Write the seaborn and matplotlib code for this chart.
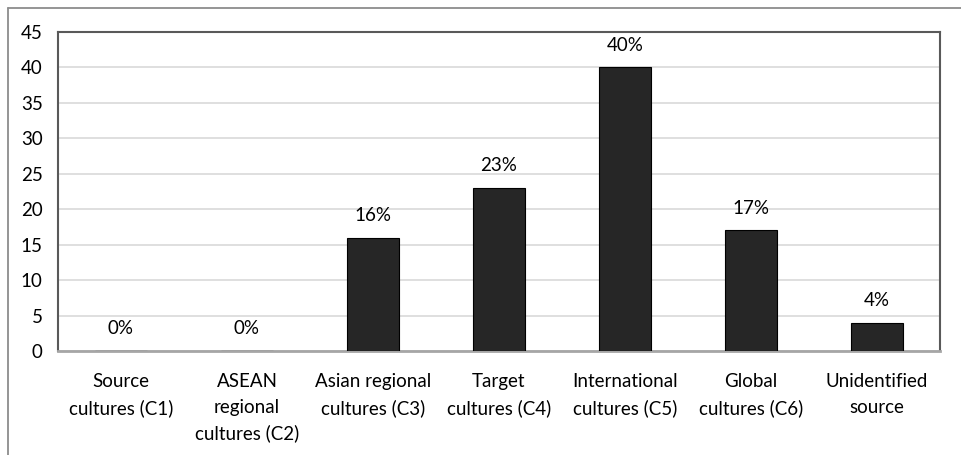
import matplotlib
matplotlib.use("Agg")
import matplotlib.pyplot as plt
import seaborn as sns
import pandas as pd
from matplotlib.lines import Line2D

categories = ["Source\ncultures (C1)", "ASEAN\nregional\ncultures (C2)", "Asian regional\ncultures (C3)",
              "Target\ncultures (C4)", "International\ncultures (C5)", "Global\ncultures (C6)",
              "Unidentified\nsource"]
values = [0, 0, 16, 23, 40, 17, 4]
labels = ["0%", "0%", "16%", "23%", "40%", "17%", "4%"]
yticks = [0, 5, 10, 15, 20, 25, 30, 35, 40, 45]

sns.set_theme(style="white")
plt.rcParams['font.family'] = ['Lato', 'DejaVu Sans']

W, H = 961, 455
fig = plt.figure(figsize=(W / 100, H / 100), dpi=100)
fig.patch.set_facecolor("white")

# outer frame (partially visible)
fig.add_artist(Line2D([8 / W, 1.0], [1 - 8 / H, 1 - 8 / H], color="#8c8c8c", lw=1.3, transform=fig.transFigure))
fig.add_artist(Line2D([8 / W, 8 / W], [0.0, 1 - 8 / H], color="#8c8c8c", lw=1.3, transform=fig.transFigure))

ax = fig.add_axes([58 / W, (H - 351) / H, 882 / W, 319 / H])
df = pd.DataFrame({"cat": categories, "val": values})
sns.barplot(data=df, x="cat", y="val", order=categories, color="#262626", edgecolor="black",
            linewidth=0.8, width=0.405, saturation=1, ax=ax, zorder=3)

ax.set_ylim(0, 45)
ax.set_yticks(yticks)
ax.set_xlim(-0.5, len(categories) - 0.5)
ax.yaxis.grid(True, color="#d9d9d9", lw=1.2, zorder=0)
ax.set_axisbelow(True)
ax.set_xlabel("")
ax.set_ylabel("")
ax.tick_params(axis="y", length=0, pad=11, labelsize=13.5, colors="black")
ax.tick_params(axis="x", length=0, pad=16, labelsize=13.5, colors="black")
for t in ax.get_xticklabels():
    t.set_linespacing(1.6)
    t.set_ha("center")

for s in ["top", "right", "left"]:
    ax.spines[s].set_color("#595959")
    ax.spines[s].set_linewidth(1.5)
    ax.spines[s].set_visible(True)
ax.spines["bottom"].set_color("#a6a6a6")
ax.spines["bottom"].set_linewidth(2)
ax.spines["bottom"].set_visible(True)

for i, (v, lab) in enumerate(zip(values, labels)):
    ax.annotate(lab, xy=(i, v), xytext=(0, 10), textcoords="offset points",
                ha="center", va="bottom", fontsize=13.5, color="black")

fig.savefig("out.png", dpi=100, facecolor="white")
